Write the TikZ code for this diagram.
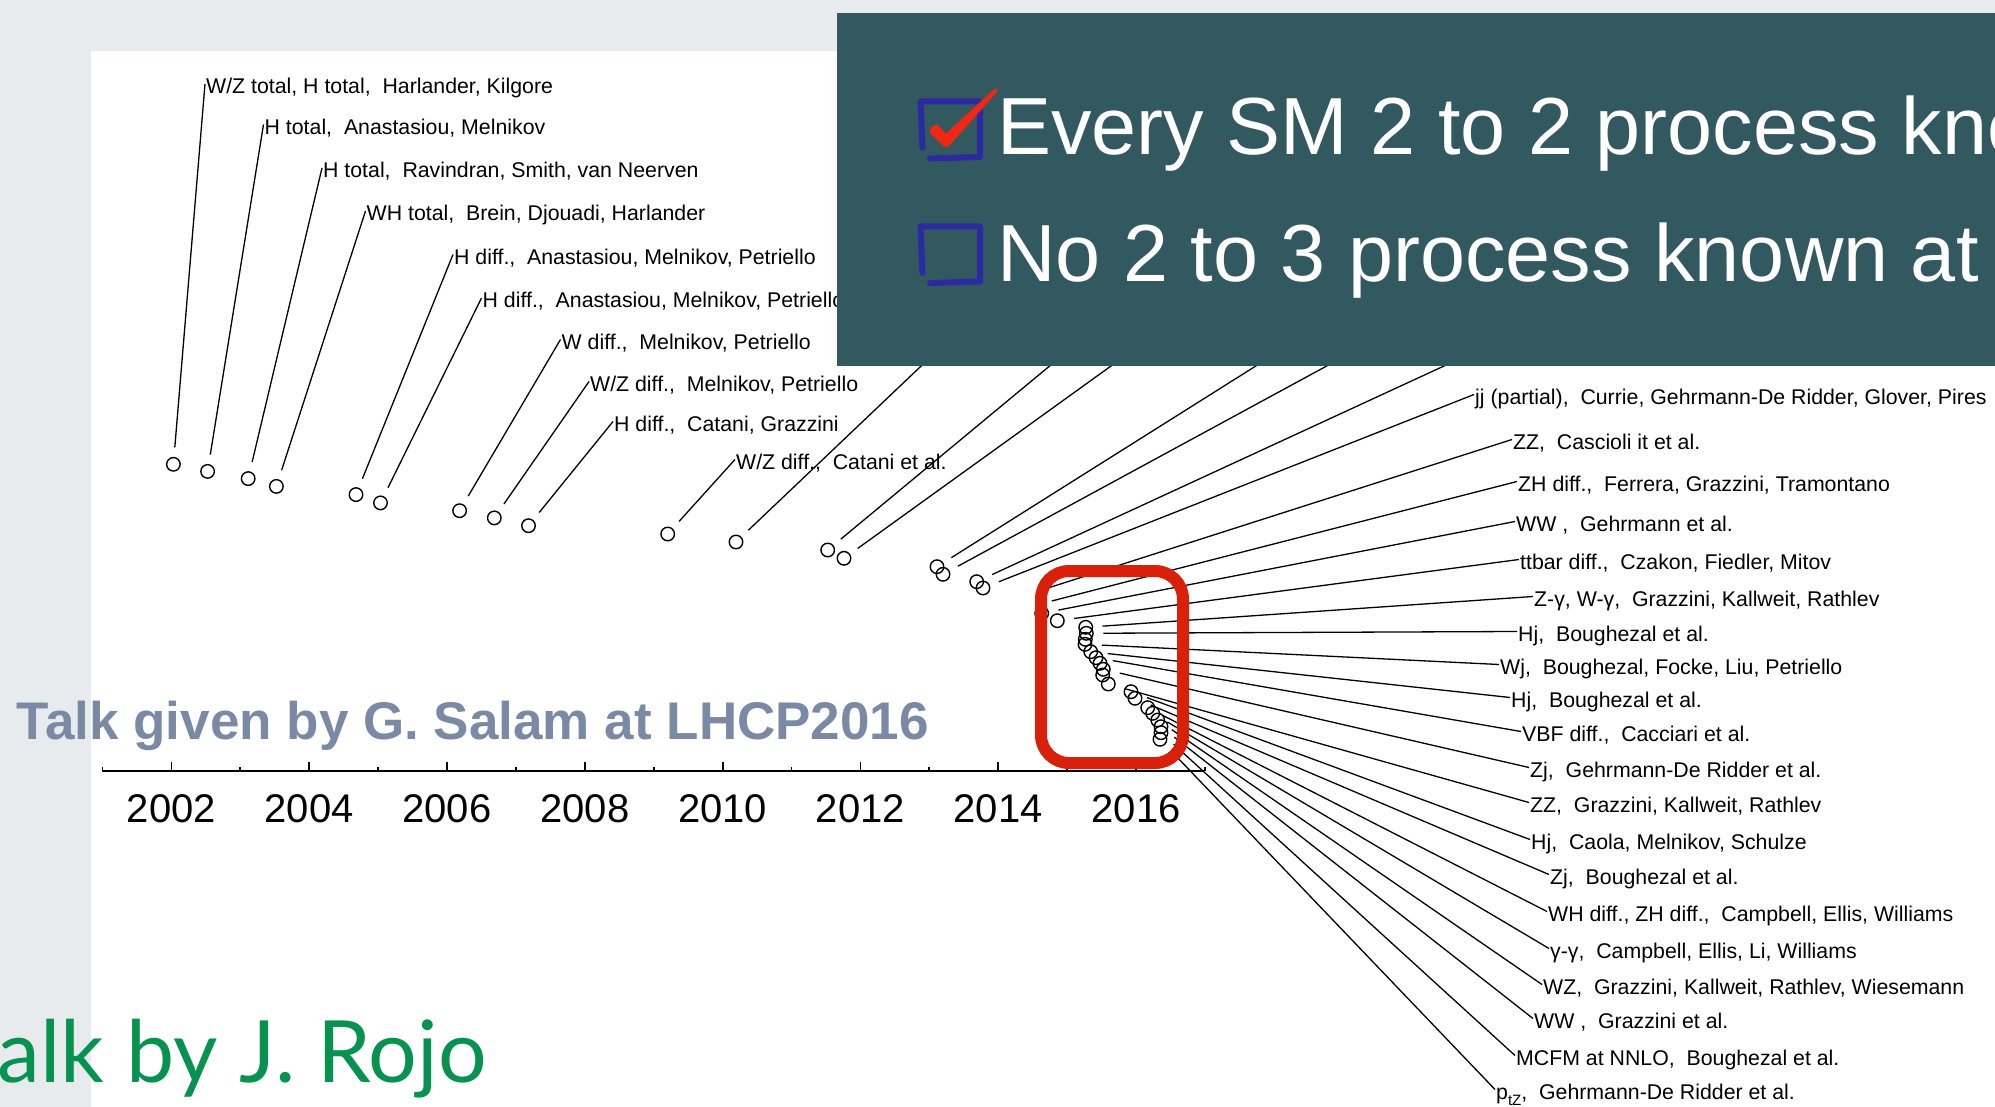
\documentclass[tikz,border=0pt]{standalone}
\usepackage{fontspec}
\setmainfont{Liberation Sans}
\newfontfamily\latofont{Lato}
\usetikzlibrary{calc}
\definecolor{bggray}{RGB}{232,235,238}
\definecolor{boxteal}{RGB}{50,88,96}
\definecolor{chkblue}{RGB}{44,42,160}
\definecolor{chkred}{RGB}{238,40,18}
\definecolor{markred}{RGB}{216,32,10}
\definecolor{salamgray}{RGB}{122,138,165}
\definecolor{rojogreen}{RGB}{8,146,80}
\begin{document}
\begin{tikzpicture}[x=1pt,y=-1pt,
  lbl/.style={anchor=base west, inner sep=0pt, inner xsep=1pt, font=\fontsize{21.3}{25}\selectfont},
  dot/.style={circle, draw, line width=1.4pt, minimum size=13.5pt, inner sep=0pt},
  conn/.style={line width=1.3pt},
  yr/.style={anchor=base, inner sep=0pt, font=\fontsize{40}{44}\selectfont},
  tick/.style={line width=1.8pt},
  boxtext/.style={anchor=base west, inner sep=0pt, text=white, font=\fontsize{81}{84}\selectfont}]
\useasboundingbox (0,0) rectangle (1995,1107);
\fill[bggray] (0,0) rectangle (1995,1107);
\fill[white] (91,51) rectangle (1995,1107);

% axis
\draw[line width=2.4pt] (102,771) -- (1204,771);
\foreach \yr in {2002,2004,...,2016} {
  \draw[tick] ({171.4+68.9*(\yr-2002)},771) -- ++(0,-9);
  \node[yr] (yr\yr) at ({171.4+68.9*(\yr-2002)},822) {\yr};
}
\foreach \yr in {2001,2003,...,2017}
  \draw[tick] ({171.4+68.9*(\yr-2002)},771) -- ++(0,-4.5);

\node[anchor=base west, inner sep=0pt, font=\bfseries\fontsize{53}{56}\selectfont, text=salamgray] (salam) at (16.5,739) {Talk given by G. Salam at LHCP2016};

% left labels
\node[lbl] (L1) at (205,94) {W/Z total, H total,~~Harlander, Kilgore};
\node[lbl] (L2) at (263.5,134.5) {H total,~~Anastasiou, Melnikov};
\node[lbl] (L3) at (322,178) {H total,~~Ravindran, Smith, van Neerven};
\node[lbl] (L4) at (365.5,221) {WH total,~~Brein, Djouadi, Harlander};
\node[lbl] (L5) at (453,264.5) {H diff.,~~Anastasiou, Melnikov, Petriello};
\node[lbl] (L6) at (481.5,308) {H diff.,~~Anastasiou, Melnikov, Petriello};
\node[lbl] (L7) at (560.5,349.5) {W diff.,~~Melnikov, Petriello};
\node[lbl] (L8) at (589,391.5) {W/Z diff.,~~Melnikov, Petriello};
\node[lbl] (L9) at (613,431.5) {H diff.,~~Catani, Grazzini};
\node[lbl] (L10) at (735,469.5) {W/Z diff.,~~Catani et al.};

% right labels
\node[lbl] (R1) at (1474,404.5) {jj (partial),~~Currie, Gehrmann-De Ridder, Glover, Pires};
\node[lbl] (R2) at (1512,449.5) {ZZ,~~Cascioli it et al.};
\node[lbl] (R3) at (1517,491.5) {ZH diff.,~~Ferrera, Grazzini, Tramontano};
\node[lbl] (R4) at (1515,531.5) {WW ,~~Gehrmann et al.};
\node[lbl] (R5) at (1519,569.5) {ttbar diff.,~~Czakon, Fiedler, Mitov};
\node[lbl] (R6) at (1533,606.5) {Z-γ, W-γ,~~Grazzini, Kallweit, Rathlev};
\node[lbl] (R7) at (1517,641.5) {Hj,~~Boughezal et al.};
\node[lbl] (R8) at (1499,674.5) {Wj,~~Boughezal, Focke, Liu, Petriello};
\node[lbl] (R9) at (1510,707.5) {Hj,~~Boughezal et al.};
\node[lbl] (R10) at (1521,741.5) {VBF diff.,~~Cacciari et al.};
\node[lbl] (R11) at (1529,777.5) {Zj,~~Gehrmann-De Ridder et al.};
\node[lbl] (R12) at (1529,812.5) {ZZ,~~Grazzini, Kallweit, Rathlev};
\node[lbl] (R13) at (1530,849.5) {Hj,~~Caola, Melnikov, Schulze};
\node[lbl] (R14) at (1549,884.5) {Zj,~~Boughezal et al.};
\node[lbl] (R15) at (1547,921.5) {WH diff., ZH diff.,~~Campbell, Ellis, Williams};
\node[lbl] (R16) at (1549,958.5) {γ-γ,~~Campbell, Ellis, Li, Williams};
\node[lbl] (R17) at (1542,994.5) {WZ,~~Grazzini, Kallweit, Rathlev, Wiesemann};
\node[lbl] (R18) at (1533,1028.5) {WW ,~~Grazzini et al.};
\node[lbl] (R19) at (1515,1065.5) {MCFM at NNLO,~~Boughezal et al.};
\node[lbl] (R20) at (1495,1099.5) {p\raisebox{-0.3em}{\fontsize{15}{15}\selectfont tZ},~~Gehrmann-De Ridder et al.};

\foreach \n in {1,...,10} \coordinate (eL\n) at ([yshift=10pt]L\n.base west);
\foreach \n in {1,...,20} \coordinate (eR\n) at ([yshift=10pt]R\n.base west);

% circles
\node[dot] (c1) at (173.4,464.3) {};
\node[dot] (c2) at (207.6,471.4) {};
\node[dot] (c3) at (248.2,478.6) {};
\node[dot] (c4) at (276.4,486.4) {};
\node[dot] (c5) at (356,494.6) {};
\node[dot] (c6) at (380.5,502.9) {};
\node[dot] (c7) at (459.6,510.7) {};
\node[dot] (c8) at (494.3,517.9) {};
\node[dot] (c9) at (528.5,525.7) {};
\node[dot] (c10) at (667.7,534) {};
\node[dot] (c11) at (736,542) {};
\node[dot] (c12) at (827.7,550) {};
\node[dot] (c13) at (844,558.3) {};
\node[dot] (c14) at (937,566.7) {};
\node[dot] (c15) at (943,574.3) {};
\node[dot] (c16) at (976.7,581.7) {};
\node[dot] (c17) at (983,588) {};
\coordinate (s18) at (1041.7,590);
\coordinate (s19) at (1051.7,601);
\node[dot] (c20) at (1041.7,613.3) {};
\node[dot] (c21) at (1057.3,620.7) {};
\node[dot] (k1) at (1085.7,627.3) {};
\node[dot] (k2) at (1086.3,633.3) {};
\node[dot] (k3) at (1085.3,639.3) {};
\node[dot] (k4) at (1085,644.3) {};
\node[dot] (k5) at (1090.7,651.7) {};
\node[dot] (k6) at (1096,657.7) {};
\node[dot] (k7) at (1100,663.3) {};
\node[dot] (k8) at (1103.3,669.3) {};
\node[dot] (k9) at (1102.7,675) {};
\node[dot] (k10) at (1108.3,684) {};
\node[dot] (m1) at (1131,691.7) {};
\node[dot] (m2) at (1135,698.3) {};
\node[dot] (m3) at (1147.7,707.7) {};
\node[dot] (m4) at (1152.7,713.3) {};
\node[dot] (m5) at (1157.7,720) {};
\node[dot] (m6) at (1161,726.7) {};
\node[dot] (m7) at (1161,732.7) {};
\node[dot] (m8) at (1160,739.3) {};

% hidden label ends (under the box)
\coordinate (h11) at (959,330);
\coordinate (h12) at (1093,330);
\coordinate (h13) at (1161,330);
\coordinate (h14) at (1313,330);
\coordinate (h15) at (1393,330);
\coordinate (h16) at (1522,330);

% connectors
\foreach \c/\e in {c1/eL1,c2/eL2,c3/eL3,c4/eL4,c5/eL5,c6/eL6,c7/eL7,c8/eL8,c9/eL9,c10/eL10,
  c11/h11,c12/h12,c13/h13,c14/h14,c15/h15,c16/h16,c17/eR1,
  c20/eR4,c21/eR5,k1/eR6,k2/eR7,k4/eR8,k5/eR9,k6/eR10,k8/eR11,k10/eR12,
  m1/eR13,m2/eR14,m3/eR15,m4/eR16,m5/eR17,m6/eR18,m7/eR19,m8/eR20}
  \draw[conn] ($(\c)!17pt!(\e)$) -- (\e);
\draw[conn] (s18) -- (eR2);
\draw[conn] (s19) -- (eR3);

% red hand-drawn box
\draw[markred, line width=12pt, rounded corners=28pt] (1041,571) rectangle (1183,763);

% dark box
\fill[boxteal] (837,13) rectangle (1995,366);
\begin{scope}
\clip (837,13) rectangle (1995,366);
\node[boxtext] (t1) at (997,155) {Every SM 2 to 2 process kno};
\node[boxtext] (t2) at (997,282) {No 2 to 3 process known at};
\end{scope}

% checkboxes
\draw[chkblue, line width=6pt, line cap=round, line join=round] (930,158.5) -- (980,157) -- (980,101.5) -- (920.5,101.5) -- (922.5,148);
\draw[chkblue, line width=6pt, line cap=round, line join=round] (930,283) -- (980,281.5) -- (980,226.5) -- (920.5,226.5) -- (922.5,273);
\fill[chkred] (930.1,132.9) .. controls (928,130) and (934,123) .. (937.9,125.1) -- (946,133.5) -- (994.6,88.6) .. controls (996,87.5) and (998.5,90) .. (997.4,91.4) -- (950,145) .. controls (948,147.5) and (944,147.5) .. (942,145) -- cycle;

% Rojo
\node[anchor=base east, inner sep=0pt, text=rojogreen, font=\latofont\fontsize{86}{90}\selectfont] (rojo) at (487,1082) {alk by J. Rojo};
\end{tikzpicture}
\end{document}
